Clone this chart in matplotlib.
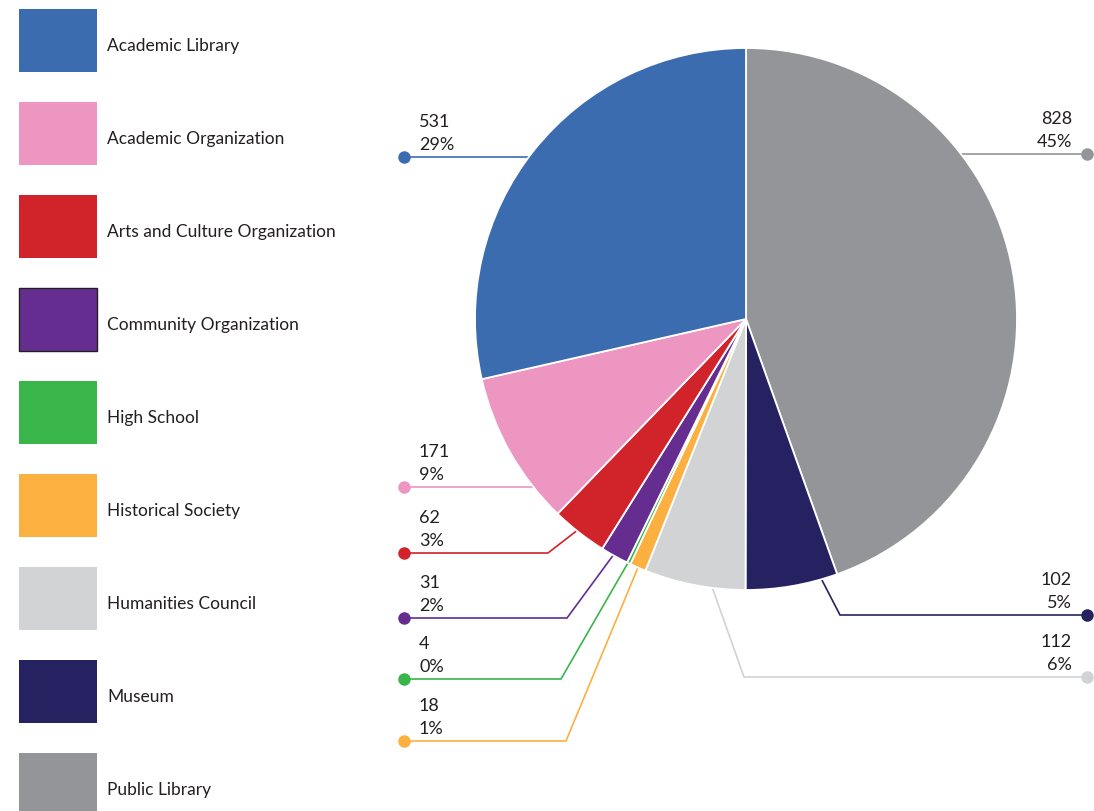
import numpy as np
import matplotlib.pyplot as plt
from matplotlib.patches import Rectangle

plt.rcParams['font.family'] = ['Lato', 'DejaVu Sans']

# legend order
categories = ['Academic Library', 'Academic Organization', 'Arts and Culture Organization',
              'Community Organization', 'High School', 'Historical Society',
              'Humanities Council', 'Museum', 'Public Library']
counts = [531, 171, 62, 31, 4, 18, 112, 102, 828]
pcts = ['29%', '9%', '3%', '2%', '0%', '1%', '6%', '5%', '45%']
colors = ['#3c6cb0', '#ec96c1', '#d0232a', '#652d90', '#3ab54a', '#fbb040',
          '#d1d3d4', '#262262', '#939598']

# pie runs clockwise from 12 o'clock in this order
pie_order = [8, 7, 6, 5, 4, 3, 2, 1, 0]

W, H = 1094, 812
fig = plt.figure(figsize=(W / 100, H / 100), dpi=100)
ax = fig.add_axes([0, 0, 1, 1])

cx, cy, R = 746, 320, 271
vals = [counts[i] for i in pie_order]
cols = [colors[i] for i in pie_order]
ax.pie(vals, colors=cols, center=(cx, cy), radius=R, startangle=-90, counterclock=True,
       wedgeprops=dict(edgecolor='white', linewidth=1.3), frame=True)
ax.set_xlim(0, W)
ax.set_ylim(H, 0)
ax.axis('off')

# angle bounds of each wedge (clockwise degrees from top)
total = float(sum(counts))
bounds = {}
a = 0.0
for i in pie_order:
    w = counts[i] / total * 360
    bounds[i] = (a, a + w)
    a += w

def edge_pt(i, frac, r):
    a0, a1 = bounds[i]
    ang = np.radians(a0 + frac * (a1 - a0))
    return cx + r * np.sin(ang), cy - r * np.cos(ang)

# leader layout: side, line y, elbow x (None = straight), fraction inside wedge
leaders = {
    0: ('L', 158, None, 0.5),
    1: ('L', 488, None, 0.5),
    2: ('L', 554, 548, 0.5),
    3: ('L', 619, 567, 0.5),
    4: ('L', 680, 561, 0.5),
    5: ('L', 742, 566, 0.5),
    6: ('R', 678, 744, 0.38),
    7: ('R', 616, 840, 0.2),
    8: ('R', 155, None, 0.5),
}
txt_col = '#231f20'
for i, (side, ly, ex, frac) in leaders.items():
    dx = 404 if side == 'L' else 1087
    if ex is None:
        xs, ys = [dx, cx], [ly, ly]
    else:
        px, py = edge_pt(i, frac, R * 0.96)
        xs, ys = [dx, ex, px], [ly, ly, py]
    ax.plot(xs, ys, color=colors[i], lw=1.2, zorder=0.5, solid_joinstyle='miter')
    ax.plot(dx, ly, 'o', color=colors[i], ms=9, mew=0, zorder=3)
    tx = 419 if side == 'L' else 1072
    ha = 'left' if side == 'L' else 'right'
    ax.text(tx, ly - 31, str(counts[i]), ha=ha, va='baseline', fontsize=13, color=txt_col)
    ax.text(tx, ly - 8, pcts[i], ha=ha, va='baseline', fontsize=13, color=txt_col)

# legend boxes
for k, name in enumerate(categories):
    y0 = 10 + 93 * k
    ec = '#231f20' if name == 'Community Organization' else 'none'
    ax.add_patch(Rectangle((19, y0), 78, 63, facecolor=colors[k], edgecolor=ec, lw=1.0))
    ax.text(107, y0 + 36, name, ha='left', va='center', fontsize=12.5, color=txt_col)

fig.savefig('out.png', dpi=100, facecolor='white')
